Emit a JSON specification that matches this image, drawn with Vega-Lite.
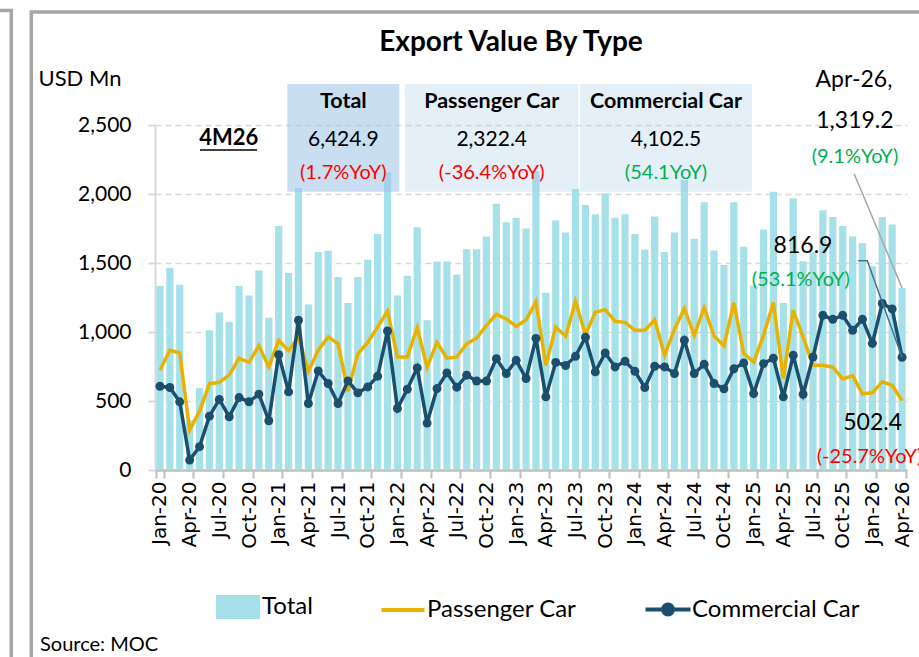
{
  "$schema": "https://vega.github.io/schema/vega-lite/v6.json",
  "width": 752,
  "height": 345,
  "autosize": {"type": "none"},
  "padding": {"left": 155, "top": 125, "right": 12, "bottom": 187},
  "background": "white",
  "title": {"text": "Export Value By Type", "font": "Lato", "fontSize": 28, "fontWeight": "bold", "color": "#000000", "anchor": "middle", "frame": "group", "dx": -20, "offset": -48},
  "config": {
    "view": {"stroke": null},
    "font": "Lato",
    "axisY": {"grid": true, "labelExpr": "format(datum.value, ',')", "gridColor": "#D9D9D9", "gridDash": [6, 4], "gridWidth": 1.3, "domainColor": "#D9D9D9", "domainWidth": 2, "tickColor": "#D9D9D9", "tickSize": 7, "tickWidth": 2, "labelFont": "Lato", "labelFontSize": 21, "labelColor": "#000000", "labelPadding": 17, "titleAngle": 0, "titleX": -117, "titleY": -47, "titleAlign": "left", "titleBaseline": "middle", "titleFont": "Lato", "titleFontSize": 22, "titleFontWeight": "normal", "titleColor": "#000000"},
    "axisX": {"grid": false, "domainColor": "#BFBFBF", "domainWidth": 2.5, "tickColor": "#BFBFBF", "tickWidth": 2, "tickSize": 8, "tickBand": "extent", "labelAngle": 270, "labelFont": "DejaVu Sans", "labelFontSize": 20, "labelColor": "#000000", "labelPadding": 3}
  },
  "datasets": {
    "main": [
      {"m": "Jan-20", "t": 1333, "p": 723, "c": 607},
      {"m": "Feb-20", "t": 1465, "p": 868, "c": 598},
      {"m": "Mar-20", "t": 1342, "p": 848, "c": 494},
      {"m": "Apr-20", "t": 361, "p": 289, "c": 72},
      {"m": "May-20", "t": 593, "p": 426, "c": 169},
      {"m": "Jun-20", "t": 1012, "p": 624, "c": 390},
      {"m": "Jul-20", "t": 1142, "p": 636, "c": 511},
      {"m": "Aug-20", "t": 1075, "p": 688, "c": 386},
      {"m": "Sep-20", "t": 1333, "p": 810, "c": 525},
      {"m": "Oct-20", "t": 1265, "p": 780, "c": 494},
      {"m": "Nov-20", "t": 1446, "p": 900, "c": 550},
      {"m": "Dec-20", "t": 1104, "p": 747, "c": 357},
      {"m": "Jan-21", "t": 1769, "p": 940, "c": 836},
      {"m": "Feb-21", "t": 1427, "p": 865, "c": 566},
      {"m": "Mar-21", "t": 2044, "p": 962, "c": 1085},
      {"m": "Apr-21", "t": 1200, "p": 715, "c": 482},
      {"m": "May-21", "t": 1579, "p": 868, "c": 718},
      {"m": "Jun-21", "t": 1588, "p": 964, "c": 627},
      {"m": "Jul-21", "t": 1398, "p": 916, "c": 482},
      {"m": "Aug-21", "t": 1210, "p": 570, "c": 646},
      {"m": "Sep-21", "t": 1398, "p": 843, "c": 559},
      {"m": "Oct-21", "t": 1523, "p": 925, "c": 602},
      {"m": "Nov-21", "t": 1711, "p": 1036, "c": 680},
      {"m": "Dec-21", "t": 2157, "p": 1152, "c": 1007},
      {"m": "Jan-22", "t": 1265, "p": 819, "c": 446},
      {"m": "Feb-22", "t": 1407, "p": 819, "c": 585},
      {"m": "Mar-22", "t": 1759, "p": 1031, "c": 740},
      {"m": "Apr-22", "t": 1085, "p": 745, "c": 340},
      {"m": "May-22", "t": 1511, "p": 925, "c": 590},
      {"m": "Jun-22", "t": 1511, "p": 810, "c": 704},
      {"m": "Jul-22", "t": 1417, "p": 819, "c": 600},
      {"m": "Aug-22", "t": 1600, "p": 916, "c": 687},
      {"m": "Sep-22", "t": 1600, "p": 955, "c": 645},
      {"m": "Oct-22", "t": 1692, "p": 1048, "c": 645},
      {"m": "Nov-22", "t": 1930, "p": 1130, "c": 807},
      {"m": "Dec-22", "t": 1795, "p": 1095, "c": 699},
      {"m": "Jan-23", "t": 1827, "p": 1040, "c": 795},
      {"m": "Feb-23", "t": 1750, "p": 1087, "c": 663},
      {"m": "Mar-23", "t": 2165, "p": 1220, "c": 954},
      {"m": "Apr-23", "t": 1285, "p": 758, "c": 530},
      {"m": "May-23", "t": 1808, "p": 1036, "c": 780},
      {"m": "Jun-23", "t": 1721, "p": 969, "c": 757},
      {"m": "Jul-23", "t": 2036, "p": 1222, "c": 824},
      {"m": "Aug-23", "t": 1921, "p": 980, "c": 962},
      {"m": "Sep-23", "t": 1853, "p": 1143, "c": 711},
      {"m": "Oct-23", "t": 2005, "p": 1162, "c": 848},
      {"m": "Nov-23", "t": 1827, "p": 1078, "c": 747},
      {"m": "Dec-23", "t": 1853, "p": 1070, "c": 788},
      {"m": "Jan-24", "t": 1711, "p": 1012, "c": 715},
      {"m": "Feb-24", "t": 1598, "p": 1012, "c": 598},
      {"m": "Mar-24", "t": 1837, "p": 1089, "c": 752},
      {"m": "Apr-24", "t": 1579, "p": 831, "c": 747},
      {"m": "May-24", "t": 1721, "p": 1020, "c": 699},
      {"m": "Jun-24", "t": 2102, "p": 1170, "c": 940},
      {"m": "Jul-24", "t": 1675, "p": 976, "c": 699},
      {"m": "Aug-24", "t": 1940, "p": 1176, "c": 766},
      {"m": "Sep-24", "t": 1591, "p": 970, "c": 627},
      {"m": "Oct-24", "t": 1485, "p": 900, "c": 588},
      {"m": "Nov-24", "t": 1940, "p": 1212, "c": 733},
      {"m": "Dec-24", "t": 1617, "p": 843, "c": 776},
      {"m": "Jan-25", "t": 1337, "p": 783, "c": 554},
      {"m": "Feb-25", "t": 1742, "p": 975, "c": 771},
      {"m": "Mar-25", "t": 2017, "p": 1214, "c": 810},
      {"m": "Apr-25", "t": 1210, "p": 663, "c": 530},
      {"m": "May-25", "t": 1969, "p": 1157, "c": 831},
      {"m": "Jun-25", "t": 1513, "p": 965, "c": 549},
      {"m": "Jul-25", "t": 1578, "p": 759, "c": 819},
      {"m": "Aug-25", "t": 1882, "p": 759, "c": 1121},
      {"m": "Sep-25", "t": 1834, "p": 745, "c": 1092},
      {"m": "Oct-25", "t": 1769, "p": 660, "c": 1121},
      {"m": "Nov-25", "t": 1692, "p": 684, "c": 1012},
      {"m": "Dec-25", "t": 1644, "p": 552, "c": 1092},
      {"m": "Jan-26", "t": 1477, "p": 559, "c": 918},
      {"m": "Feb-26", "t": 1834, "p": 640, "c": 1207},
      {"m": "Mar-26", "t": 1779, "p": 614, "c": 1167},
      {"m": "Apr-26", "t": 1319.2, "p": 502.4, "c": 816.9}
    ]
  },
  "layer": [
    {
      "data": {"name": "main"},
      "layer": [
        {
          "mark": {"type": "bar", "color": "#A6E1EA"},
          "encoding": {
            "x": {"field": "m", "type": "nominal", "sort": null, "title": null, "scale": {"type": "band", "paddingInner": 0.27, "paddingOuter": 0.135},
              "axis": {"values": ["Jan-20","Apr-20","Jul-20","Oct-20","Jan-21","Apr-21","Jul-21","Oct-21","Jan-22","Apr-22","Jul-22","Oct-22","Jan-23","Apr-23","Jul-23","Oct-23","Jan-24","Apr-24","Jul-24","Oct-24","Jan-25","Apr-25","Jul-25","Oct-25","Jan-26","Apr-26"]}},
            "y": {"field": "t", "type": "quantitative", "title": "USD Mn", "scale": {"domain": [0, 2500], "nice": false}, "axis": {"values": [0, 500, 1000, 1500, 2000, 2500], "labelExpr": "format(datum.value, ',')"}},
            "color": {"datum": "Total", "type": "nominal",
              "scale": {"domain": ["Total", "Passenger Car", "Commercial Car"], "range": ["#A6E1EA", "#EAB200", "#1C4E6E"]},
              "legend": {"orient": "none", "legendX": 71, "legendY": 470, "direction": "horizontal", "columns": 3, "title": null, "labelFont": "Lato", "labelFontSize": 24, "labelColor": "#000000", "labelLimit": 400, "symbolSize": 400, "symbolStrokeWidth": 4, "labelOffset": 12, "columnPadding": 60,
                "encode": {"symbols": {"update": {
                  "shape": {"signal": "datum.value == 'Total' ? 'M-2,-1H2V1H-2Z' : datum.value == 'Passenger Car' ? 'M-2.15,0H2.15' : 'M-2.25,0H2.25M-0.5,0A0.5,0.5,0,1,1,0.5,0A0.5,0.5,0,1,1,-0.5,0'"},
                  "fill": {"signal": "datum.value == 'Total' ? '#A6E1EA' : datum.value == 'Commercial Car' ? '#1C4E6E' : 'transparent'"},
                  "stroke": {"signal": "datum.value == 'Total' ? 'transparent' : datum.value == 'Passenger Car' ? '#EAB200' : '#1C4E6E'"},
                  "strokeWidth": {"value": 4},
                  "opacity": {"value": 1}
                }}}}}
          }
        },
        {
          "mark": {"type": "line", "strokeWidth": 3.5},
          "encoding": {
            "x": {"field": "m", "type": "nominal", "sort": null, "title": null},
            "y": {"field": "p", "type": "quantitative", "title": "USD Mn", "scale": {"domain": [0, 2500], "nice": false}, "axis": {"values": [0, 500, 1000, 1500, 2000, 2500], "labelExpr": "format(datum.value, ',')"}},
            "color": {"datum": "Passenger Car", "type": "nominal"}
          }
        },
        {
          "mark": {"type": "line", "strokeWidth": 3.5, "point": {"filled": true, "size": 80, "opacity": 1}},
          "encoding": {
            "x": {"field": "m", "type": "nominal", "sort": null, "title": null},
            "y": {"field": "c", "type": "quantitative", "title": "USD Mn", "scale": {"domain": [0, 2500], "nice": false}, "axis": {"values": [0, 500, 1000, 1500, 2000, 2500], "labelExpr": "format(datum.value, ',')"}},
            "color": {"datum": "Commercial Car", "type": "nominal"}
          }
        }
      ]
    },
    {
      "layer": [
        {
          "data": {"values": [{"u1": -12.5, "u2": 78.3, "v1": -1460, "v2": 3319}]},
          "mark": {"type": "rect", "fill": null, "fillOpacity": 0, "stroke": "#A6A6A6", "strokeWidth": 3.5},
          "encoding": {
            "x": {"field": "u1", "type": "quantitative", "scale": {"domain": [0, 76], "nice": false, "zero": false}, "axis": null},
            "x2": {"field": "u2"},
            "y": {"field": "v1", "type": "quantitative", "title": "USD Mn", "scale": {"domain": [0, 2500], "nice": false}},
            "y2": {"field": "v2"}
          }
        },
        {
          "data": {"values": [{"u": -14.52, "v1": -1460, "v2": 3330}]},
          "mark": {"type": "rule", "stroke": "#A6A6A6", "strokeWidth": 3.5},
          "encoding": {
            "x": {"field": "u", "type": "quantitative", "axis": null},
            "y": {"field": "v1", "type": "quantitative", "title": "USD Mn", "scale": {"domain": [0, 2500], "nice": false}},
            "y2": {"field": "v2"}
          }
        },
        {
          "data": {"values": [{"u1": -16, "u2": -14.35, "v": 3330}]},
          "mark": {"type": "rule", "stroke": "#A6A6A6", "strokeWidth": 3.5},
          "encoding": {
            "x": {"field": "u1", "type": "quantitative", "axis": null},
            "x2": {"field": "u2"},
            "y": {"field": "v", "type": "quantitative", "title": "USD Mn", "scale": {"domain": [0, 2500], "nice": false}}
          }
        },
        {
          "data": {"values": [{"name": "Total", "u1": 13.37, "u2": 24.69, "v1": 2017, "v2": 2797}]},
          "mark": {"type": "rect", "fill": "#9DC3E6", "opacity": 0.55},
          "encoding": {
            "x": {"field": "u1", "type": "quantitative", "axis": null},
            "x2": {"field": "u2"},
            "y": {"field": "v1", "type": "quantitative", "title": "USD Mn", "scale": {"domain": [0, 2500], "nice": false}},
            "y2": {"field": "v2"}
          }
        },
        {
          "data": {"values": [{"name": "Passenger Car", "u1": 25.27, "u2": 42.79, "v1": 2017, "v2": 2797}, {"name": "Commercial Car", "u1": 42.96, "u2": 60.32, "v1": 2017, "v2": 2797}]},
          "mark": {"type": "rect", "fill": "#9DC3E6", "opacity": 0.27},
          "encoding": {
            "x": {"field": "u1", "type": "quantitative", "axis": null},
            "x2": {"field": "u2"},
            "y": {"field": "v1", "type": "quantitative", "title": "USD Mn", "scale": {"domain": [0, 2500], "nice": false}},
            "y2": {"field": "v2"}
          }
        },
        {
          "data": {"values": [{"s": "Total", "u": 19.03, "v": 2667}, {"s": "Passenger Car", "u": 34.03, "v": 2667}, {"s": "Commercial Car", "u": 51.64, "v": 2667}]},
          "mark": {"type": "text", "font": "Lato", "fontSize": 21.5, "fontWeight": "bold", "color": "#000000", "align": "center", "baseline": "middle"},
          "encoding": {
            "x": {"field": "u", "type": "quantitative", "axis": null},
            "y": {"field": "v", "type": "quantitative", "title": "USD Mn", "scale": {"domain": [0, 2500], "nice": false}},
            "text": {"field": "s"}
          }
        },
        {
          "data": {"values": [{"s": "6,424.9", "u": 19.03, "v": 2391}, {"s": "2,322.4", "u": 34.03, "v": 2391}, {"s": "4,102.5", "u": 51.64, "v": 2391}]},
          "mark": {"type": "text", "font": "Lato", "fontSize": 21, "color": "#000000", "align": "center", "baseline": "middle"},
          "encoding": {
            "x": {"field": "u", "type": "quantitative", "axis": null},
            "y": {"field": "v", "type": "quantitative", "title": "USD Mn", "scale": {"domain": [0, 2500], "nice": false}},
            "text": {"field": "s"}
          }
        },
        {
          "data": {"values": [{"s": "(1.7%YoY)", "u": 19.03, "v": 2152}, {"s": "(-36.4%YoY)", "u": 34.03, "v": 2152}]},
          "mark": {"type": "text", "font": "Lato", "fontSize": 20, "color": "#FF0000", "align": "center", "baseline": "middle"},
          "encoding": {
            "x": {"field": "u", "type": "quantitative", "axis": null},
            "y": {"field": "v", "type": "quantitative", "title": "USD Mn", "scale": {"domain": [0, 2500], "nice": false}},
            "text": {"field": "s"}
          }
        },
        {
          "data": {"values": [{"s": "(54.1YoY)", "u": 51.64, "v": 2152}, {"s": "(9.1%YoY)", "u": 70.74, "v": 2270}, {"s": "(53.1%YoY)", "u": 65.27, "v": 1377}]},
          "mark": {"type": "text", "font": "Lato", "fontSize": 20, "color": "#00B050", "align": "center", "baseline": "middle"},
          "encoding": {
            "x": {"field": "u", "type": "quantitative", "axis": null},
            "y": {"field": "v", "type": "quantitative", "title": "USD Mn", "scale": {"domain": [0, 2500], "nice": false}},
            "text": {"field": "s"}
          }
        },
        {
          "data": {"values": [{"s": "4M26", "u": 7.45, "v": 2409}]},
          "mark": {"type": "text", "font": "Lato", "fontSize": 22, "fontWeight": "bold", "color": "#000000", "align": "center", "baseline": "middle"},
          "encoding": {
            "x": {"field": "u", "type": "quantitative", "axis": null},
            "y": {"field": "v", "type": "quantitative", "title": "USD Mn", "scale": {"domain": [0, 2500], "nice": false}},
            "text": {"field": "s"}
          }
        },
        {
          "data": {"values": [{"u1": 4.55, "u2": 10.31, "v": 2319}]},
          "mark": {"type": "rule", "stroke": "#000000", "strokeWidth": 1.5},
          "encoding": {
            "x": {"field": "u1", "type": "quantitative", "axis": null},
            "x2": {"field": "u2"},
            "y": {"field": "v", "type": "quantitative", "title": "USD Mn", "scale": {"domain": [0, 2500], "nice": false}}
          }
        },
        {
          "data": {"values": [{"s": "Apr-26,", "u": 70.64, "v": 2826}, {"s": "1,319.2", "u": 70.74, "v": 2531}, {"s": "816.9", "u": 65.49, "v": 1623}, {"s": "502.4", "u": 72.53, "v": 341}]},
          "mark": {"type": "text", "font": "Lato", "fontSize": 23, "color": "#000000", "align": "center", "baseline": "middle"},
          "encoding": {
            "x": {"field": "u", "type": "quantitative", "axis": null},
            "y": {"field": "v", "type": "quantitative", "title": "USD Mn", "scale": {"domain": [0, 2500], "nice": false}},
            "text": {"field": "s"}
          }
        },
        {
          "data": {"values": [{"s": "(-25.7%YoY)", "u": 66.87, "v": 94}]},
          "mark": {"type": "text", "font": "Lato", "fontSize": 20, "color": "#FF0000", "align": "left", "baseline": "middle"},
          "encoding": {
            "x": {"field": "u", "type": "quantitative", "axis": null},
            "y": {"field": "v", "type": "quantitative", "title": "USD Mn", "scale": {"domain": [0, 2500], "nice": false}},
            "text": {"field": "s"}
          }
        },
        {
          "data": {"values": [{"u": 70.67, "v": 2145}, {"u": 75.5, "v": 1319.2}]},
          "mark": {"type": "line", "stroke": "#A6A6A6", "strokeWidth": 1.5},
          "encoding": {
            "x": {"field": "u", "type": "quantitative", "axis": null},
            "y": {"field": "v", "type": "quantitative", "title": "USD Mn", "scale": {"domain": [0, 2500], "nice": false}}
          }
        },
        {
          "data": {"values": [{"u": 71.07, "v": 1517}, {"u": 71.99, "v": 1517}, {"u": 75.5, "v": 816.9}]},
          "mark": {"type": "line", "stroke": "#4A7290", "strokeWidth": 1.5},
          "encoding": {
            "x": {"field": "u", "type": "quantitative", "axis": null},
            "y": {"field": "v", "type": "quantitative", "title": "USD Mn", "scale": {"domain": [0, 2500], "nice": false}}
          }
        },
        {
          "data": {"values": [{"s": "Source: MOC", "u": -11.62, "v": -1268}]},
          "mark": {"type": "text", "font": "Lato", "fontSize": 20, "color": "#000000", "align": "left", "baseline": "middle"},
          "encoding": {
            "x": {"field": "u", "type": "quantitative", "axis": null},
            "y": {"field": "v", "type": "quantitative", "title": "USD Mn", "scale": {"domain": [0, 2500], "nice": false}},
            "text": {"field": "s"}
          }
        }
      ]
    }
  ],
  "resolve": {"scale": {"x": "independent"}, "axis": {"x": "independent"}}
}
